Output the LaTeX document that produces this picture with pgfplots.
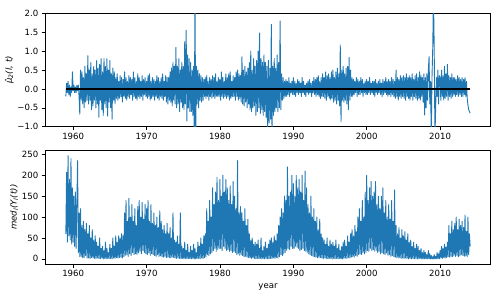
\documentclass[border=0pt]{standalone}
\usepackage{fontspec}
\setmainfont{DejaVu Sans}
\usepackage{pgfplots}
\usepackage{pgfplotstable}
\pgfplotsset{compat=1.18}
\definecolor{mplblue}{HTML}{1F77B4}
\pgfplotstableread[header=false,row sep=\\]{
-0.2\\0.15\\-0.1\\0.2\\-0.15\\0.1\\-0.2\\0.05\\-0.1\\0.45\\
-0.05\\0.1\\-0.1\\0.05\\-0.1\\0.1\\-0.05\\0.1\\-0.2\\-0.67\\
0.5\\-0.3\\0.45\\-0.4\\0.3\\-0.5\\0.6\\-0.35\\0.4\\-0.3\\
0.88\\-0.4\\0.5\\-0.3\\0.7\\-0.55\\0.4\\-0.45\\0.6\\-0.3\\
0.5\\-0.5\\0.75\\-0.4\\0.55\\-0.75\\0.65\\-0.3\\0.8\\-0.55\\
0.45\\-0.7\\0.8\\-0.4\\0.6\\-0.5\\0.8\\-0.72\\0.5\\-0.35\\
0.75\\-0.5\\0.4\\-0.8\\0.55\\-0.3\\0.45\\-0.4\\0.3\\-0.25\\
0.4\\-0.3\\0.2\\-0.25\\0.35\\-0.2\\0.3\\-0.35\\0.25\\-0.2\\
0.45\\-0.25\\0.3\\-0.3\\0.2\\-0.2\\0.35\\-0.25\\0.3\\-0.15\\
0.25\\-0.3\\0.45\\-0.2\\0.3\\-0.25\\0.2\\-0.3\\0.4\\-0.2\\
0.3\\-0.25\\0.2\\-0.2\\0.35\\-0.3\\0.25\\-0.15\\0.3\\-0.2\\
0.2\\-0.25\\0.35\\-0.2\\0.4\\-0.3\\0.2\\-0.25\\0.3\\-0.2\\
0.25\\-0.3\\0.2\\-0.2\\0.35\\-0.25\\0.3\\-0.3\\0.2\\-0.2\\
0.3\\-0.25\\0.4\\-0.3\\0.2\\-0.2\\0.35\\-0.35\\0.3\\-0.4\\
0.3\\-0.3\\0.45\\-0.35\\0.55\\-0.45\\0.7\\-0.3\\0.6\\-0.4\\
1.1\\-0.5\\0.6\\-0.4\\0.8\\-0.6\\0.5\\-0.35\\0.7\\-0.5\\
0.6\\-0.55\\1.25\\-0.4\\1.55\\-0.85\\0.9\\-0.5\\0.8\\-0.6\\
0.7\\-0.6\\0.5\\-0.7\\0.6\\-1.3\\2.5\\-1.3\\0.6\\-0.4\\
0.5\\-0.5\\0.4\\-0.3\\0.35\\-0.35\\0.3\\-0.3\\0.25\\-0.2\\
0.3\\-0.25\\0.35\\-0.2\\0.2\\-0.3\\0.3\\-0.2\\0.25\\-0.25\\
0.35\\-0.2\\0.3\\-0.25\\0.4\\-0.2\\0.2\\-0.2\\0.3\\-0.2\\
0.25\\-0.3\\0.45\\-0.2\\0.3\\-0.25\\0.2\\-0.2\\0.4\\-0.25\\
0.3\\-0.2\\0.4\\-0.3\\0.45\\-0.25\\0.2\\-0.2\\0.35\\-0.2\\
0.3\\-0.3\\0.45\\-0.2\\0.5\\-0.3\\0.4\\-0.25\\0.35\\-0.35\\
0.85\\-0.4\\0.5\\-0.45\\0.6\\-0.35\\0.45\\-0.5\\0.55\\-0.4\\
0.7\\-0.55\\1.0\\-0.6\\0.5\\-0.5\\0.8\\-0.45\\0.6\\-0.7\\
0.75\\-0.6\\1.0\\-0.5\\1.48\\-0.65\\0.8\\-0.55\\0.7\\-0.7\\
0.9\\-0.6\\0.7\\-0.75\\0.6\\-1.3\\0.75\\-0.9\\0.55\\-0.8\\
1.71\\-1.3\\0.6\\-0.7\\0.8\\-0.6\\0.55\\-0.5\\0.9\\-0.6\\
0.7\\-0.5\\1.8\\-0.55\\0.4\\-0.3\\0.3\\-0.25\\0.2\\-0.2\\
0.25\\-0.2\\0.2\\-0.15\\0.3\\-0.2\\0.15\\-0.1\\0.2\\-0.15\\
0.3\\-0.15\\0.2\\-0.2\\0.15\\-0.1\\0.25\\-0.15\\0.2\\-0.1\\
0.15\\-0.2\\0.3\\-0.1\\0.2\\-0.15\\0.1\\-0.2\\0.15\\-0.1\\
0.2\\-0.15\\0.25\\-0.1\\0.15\\-0.2\\0.2\\-0.1\\0.3\\-0.15\\
0.25\\-0.2\\0.3\\-0.15\\0.35\\-0.2\\0.2\\-0.25\\0.3\\-0.2\\
0.4\\-0.2\\0.3\\-0.25\\0.45\\-0.3\\0.35\\-0.2\\0.4\\-0.25\\
0.3\\-0.3\\0.45\\-0.25\\0.5\\-0.35\\0.3\\-0.3\\0.45\\-0.4\\
0.55\\-0.3\\0.4\\-0.45\\1.16\\-0.87\\0.5\\-0.3\\0.6\\-0.35\\
0.4\\-0.3\\0.55\\-0.4\\0.6\\-0.55\\0.83\\-0.3\\0.5\\-0.2\\
0.3\\-0.2\\0.25\\-0.15\\0.2\\-0.1\\0.3\\-0.2\\0.25\\-0.15\\
0.2\\-0.15\\0.3\\-0.1\\0.25\\-0.2\\0.15\\-0.1\\0.2\\-0.15\\
0.25\\-0.15\\0.2\\-0.1\\0.3\\-0.15\\0.15\\-0.1\\0.2\\-0.15\\
0.2\\-0.2\\0.25\\-0.1\\0.15\\-0.15\\0.2\\-0.1\\0.25\\-0.15\\
0.15\\-0.2\\0.25\\-0.15\\0.2\\-0.1\\0.3\\-0.15\\0.2\\-0.2\\
0.25\\-0.15\\0.2\\-0.2\\0.3\\-0.15\\0.25\\-0.2\\0.2\\-0.25\\
0.5\\-0.2\\0.3\\-0.3\\0.25\\-0.2\\0.35\\-0.25\\0.3\\-0.2\\
0.35\\-0.25\\0.3\\-0.3\\0.4\\-0.2\\0.3\\-0.25\\0.35\\-0.3\\
0.3\\-0.2\\0.4\\-0.3\\0.25\\-0.2\\0.35\\-0.25\\0.4\\-0.3\\
0.3\\-0.25\\0.45\\-0.3\\0.35\\-0.2\\0.3\\-0.35\\0.4\\-0.69\\
0.3\\-0.5\\0.4\\-0.3\\0.5\\0.85\\-0.4\\0.2\\-1.3\\0.3\\
1.08\\2.5\\1.1\\-1.3\\-0.5\\0.3\\-0.2\\0.5\\-0.4\\0.35\\
0.3\\-0.3\\0.5\\-0.2\\0.35\\-0.3\\0.6\\-0.25\\0.4\\-0.2\\
0.65\\-0.3\\0.35\\-0.2\\0.3\\-0.25\\0.4\\-0.2\\0.3\\-0.15\\
0.3\\-0.2\\0.25\\-0.15\\0.35\\-0.2\\0.3\\-0.15\\0.25\\-0.2\\
0.3\\-0.2\\0.25\\-0.15\\0.3\\-0.2\\0.2\\-0.25\\-0.43\\-0.55\\
-0.6\\-0.64\\
}\topdata
\pgfplotstableread[header=false,row sep=\\]{
60\\207\\40\\247\\55\\190\\45\\240\\35\\170\\
40\\150\\30\\160\\25\\130\\235\\15\\110\\5\\
120\\5\\80\\2\\90\\3\\70\\8\\85\\2\\
60\\2\\80\\1\\50\\3\\70\\2\\45\\1\\
55\\1\\40\\2\\30\\1\\50\\0\\25\\2\\
30\\0\\20\\1\\40\\0\\25\\1\\15\\0\\
35\\1\\25\\0\\50\\2\\30\\1\\55\\3\\
40\\2\\55\\3\\50\\4\\60\\2\\55\\5\\
110\\8\\140\\10\\90\\6\\145\\12\\100\\8\\
130\\15\\90\\10\\120\\12\\80\\10\\125\\14\\
140\\18\\100\\12\\135\\20\\95\\15\\130\\12\\
120\\10\\140\\15\\90\\8\\130\\12\\85\\10\\
110\\8\\80\\6\\100\\10\\75\\5\\115\\7\\
90\\5\\70\\4\\80\\6\\60\\3\\85\\4\\
60\\3\\75\\2\\50\\4\\110\\3\\45\\2\\
40\\1\\55\\2\\35\\1\\110\\0\\30\\1\\
25\\0\\40\\1\\20\\0\\35\\1\\15\\0\\
30\\0\\20\\1\\35\\0\\25\\0\\15\\1\\
40\\1\\30\\0\\50\\2\\35\\1\\55\\3\\
60\\5\\120\\10\\90\\8\\140\\12\\100\\15\\
170\\20\\130\\25\\160\\18\\195\\22\\140\\25\\
190\\25\\150\\20\\200\\30\\160\\25\\190\\20\\
170\\22\\140\\18\\175\\20\\130\\15\\185\\18\\
150\\15\\120\\10\\235\\12\\110\\8\\125\\10\\
110\\8\\90\\5\\120\\6\\80\\4\\95\\3\\
60\\2\\45\\1\\50\\2\\35\\1\\40\\0\\
35\\1\\45\\0\\25\\1\\50\\0\\20\\1\\
30\\0\\40\\1\\25\\0\\35\\0\\45\\1\\
50\\1\\40\\2\\55\\1\\45\\3\\60\\2\\
80\\5\\100\\10\\120\\8\\110\\12\\150\\15\\
140\\20\\220\\25\\150\\22\\160\\30\\200\\25\\
180\\25\\150\\30\\200\\28\\170\\25\\190\\20\\
160\\22\\200\\25\\140\\20\\210\\18\\170\\15\\
130\\12\\110\\10\\150\\8\\100\\6\\120\\5\\
90\\4\\100\\3\\70\\2\\95\\3\\60\\2\\
50\\1\\45\\2\\35\\1\\50\\0\\30\\1\\
45\\1\\35\\0\\40\\1\\30\\0\\45\\1\\
25\\0\\35\\1\\20\\0\\30\\0\\40\\1\\
45\\2\\30\\1\\55\\3\\40\\2\\60\\4\\
70\\5\\55\\4\\80\\8\\65\\6\\100\\10\\
120\\12\\90\\10\\140\\15\\100\\12\\160\\15\\
200\\20\\140\\18\\170\\25\\185\\20\\150\\22\\
160\\18\\185\\20\\130\\15\\150\\18\\120\\12\\
150\\15\\170\\12\\110\\10\\140\\14\\100\\8\\
130\\10\\95\\6\\140\\8\\90\\5\\165\\4\\
80\\3\\60\\2\\75\\3\\50\\1\\70\\2\\
55\\1\\65\\2\\45\\1\\60\\0\\40\\1\\
45\\0\\30\\1\\40\\0\\25\\1\\35\\0\\
30\\0\\20\\1\\25\\0\\15\\0\\20\\0\\
15\\0\\10\\0\\20\\0\\12\\0\\8\\0\\
5\\0\\10\\0\\6\\0\\15\\0\\12\\0\\
20\\2\\30\\1\\25\\3\\35\\2\\28\\3\\
40\\5\\80\\4\\60\\6\\90\\5\\70\\8\\
85\\6\\100\\8\\70\\5\\95\\7\\80\\10\\
90\\8\\75\\6\\105\\7\\65\\5\\100\\10\\
60\\30\\
}\botdata
\pgfplotsset{
  mystyle/.style={
    scale only axis, width=445.4bp, height=113.4bp,
    xmin=1956.2, xmax=2016.9,
    xtick={1960,1970,1980,1990,2000,2010},
    xticklabels={1960,1970,1980,1990,2000,2010},
    tick align=outside, xtick pos=bottom, ytick pos=left,
    major tick length=3.5bp,
    tick style={black, line width=0.6bp},
    axis line style={line width=0.6bp},
    ticklabel style={font=\fontsize{8.6}{10}\selectfont},
    label style={font=\fontsize{8.6}{10}\selectfont},
    xticklabel style={yshift=1bp},
    ylabel style={yshift=-3bp},
  }
}
\begin{document}
\begin{tikzpicture}
\useasboundingbox (-45.3bp,-173.3bp) rectangle (454.7bp,126.7bp);
\begin{axis}[mystyle, at={(0,0)}, anchor=south west,
  ymin=-1, ymax=2,
  ytick={-1,-0.5,0,0.5,1,1.5,2},
  yticklabels={−1.0,−0.5,0.0,0.5,1.0,1.5,2.0},
  ylabel={\itshape μ̂\textsubscript{2}(l, t)}]
\addplot[mplblue, line width=0.9bp, line join=round] table[x expr={1959+0.1*\coordindex}, y index=0] {\topdata};
\addplot[black, line width=1.5bp] coordinates {(1959,0) (2014.1,0)};
\end{axis}
\begin{axis}[mystyle, at={(0,-137.3bp)}, anchor=south west,
  ymin=-12.35, ymax=259,
  ytick={0,50,100,150,200,250},
  yticklabels={0,50,100,150,200,250},
  ylabel={\itshape med\textsubscript{l}(Y\textsubscript{l}(t))}, xlabel={year}]
\addplot[mplblue, line width=0.9bp, line join=round] table[x expr={1959+0.1*\coordindex}, y index=0] {\botdata};
\end{axis}
\end{tikzpicture}
\end{document}
